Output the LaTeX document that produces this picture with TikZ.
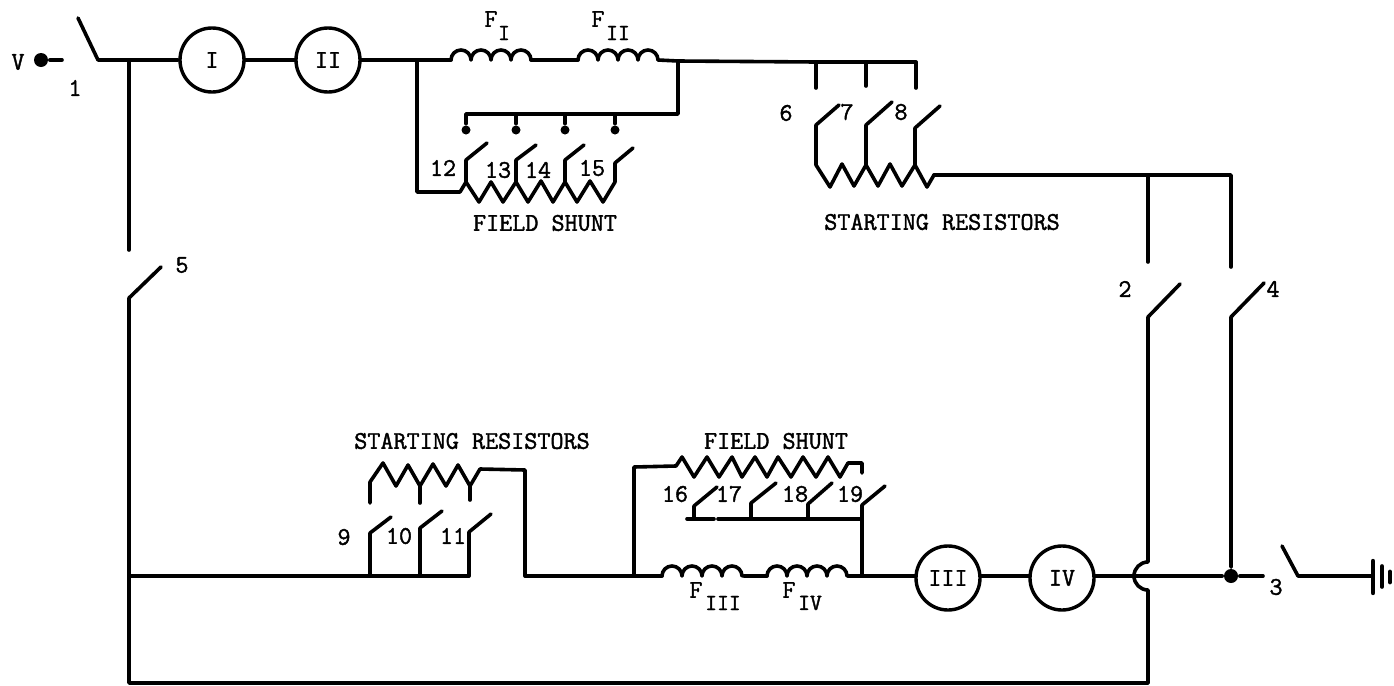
\documentclass[tikz,border=0pt]{standalone}
\usepackage{fontspec}
\newfontfamily\lblfont[FakeBold=1.6]{Latin Modern Mono}

\tikzset{
    wire/.style={line width=1.8pt, line join=round, line cap=round},
    lbl/.style={font=\lblfont\fontsize{12.7}{14}\selectfont, inner sep=0pt},
    sublbl/.style={lbl, font=\lblfont\fontsize{11.5}{14}\selectfont},
    dot/.style={circle, fill=black, inner sep=0pt, minimum size=4.5pt},
    motor/.style={circle, draw, line width=1.7pt, minimum size=32pt, inner sep=0pt, lbl}
}

\begin{document}
\begin{tikzpicture}[x=0.5pt, y=-0.5pt, wire]
        \useasboundingbox (0,0) rectangle (1394,686);

        % Motoren
        \node[motor] (MI) at (212,60) {I};
        \node[motor] (MII) at (328,60) {II};
        \node[motor] (MIII) at (948,578) {III};
        \node[motor] (MIV) at (1062,578) {IV};

        % Klemmen
        \node[dot, minimum size=7pt] (V) at (41,60) {};
        \node[dot] (D12) at (466,130) {};
        \node[dot] (D13) at (516,130) {};
        \node[dot] (D14) at (565,130) {};
        \node[dot] (D15) at (615,130) {};
        \node[dot, minimum size=7pt] (J4) at (1231,576) {};

        % Punkte oben
        \coordinate (Va) at (62,60);
        \coordinate (S1a) at (78,18);
        \coordinate (S1b) at (98,60);
        \coordinate (J5) at (129,60);
        \coordinate (S5t) at (129,250);
        \coordinate (S5a) at (161,267);
        \coordinate (S5b) at (129,298);
        \coordinate (Cor) at (129,683);
        \coordinate (J12) at (417,60);
        \coordinate (FIa) at (451,60);
        \coordinate (FIb) at (531,60);
        \coordinate (FIIa) at (578,60);
        \coordinate (FIIb) at (658,60);
        \coordinate (J15) at (678,61);
        \coordinate (T8) at (916,62);
        \coordinate (T6) at (816,62);
        \coordinate (T7) at (866,62);
        \coordinate (B15) at (678,114);
        \coordinate (B12) at (466,114);
        \coordinate (B13) at (516,114);
        \coordinate (B14) at (565,114);
        \coordinate (B15x) at (615,114);
        \coordinate (Ra) at (417,192);
        \coordinate (Rb) at (460,192);

        % Punkte rechts
        \coordinate (R2) at (934,175);
        \coordinate (J2) at (1148,175);
        \coordinate (J4t) at (1231,175);
        \coordinate (S2t) at (1148,262);
        \coordinate (S4t) at (1231,267);
        \coordinate (S2a) at (1180,284);
        \coordinate (S2b) at (1148,317);
        \coordinate (S4a) at (1264,283);
        \coordinate (S4b) at (1231,317);
        \coordinate (Ha) at (1148,562);
        \coordinate (Hb) at (1148,590);
        \coordinate (Cr) at (1148,683);
        \coordinate (End) at (1263,576);
        \coordinate (S3a) at (1282,546);
        \coordinate (S3b) at (1298,576);
        \coordinate (Gnd) at (1373,576);

        % Punkte unten
        \coordinate (L5) at (129,576);
        \coordinate (L11) at (469,576);
        \coordinate (Lu) at (525,576);
        \coordinate (Lt) at (525,470);
        \coordinate (Rc) at (480,469);
        \coordinate (L9) at (370,576);
        \coordinate (L10) at (420,576);
        \coordinate (Lf) at (634,576);
        \coordinate (Lft) at (634,467);
        \coordinate (Rd) at (676,466);
        \coordinate (FIIIa) at (662,576);
        \coordinate (FIIIb) at (744,576);
        \coordinate (FIVa) at (767,576);
        \coordinate (FIVb) at (848,576);
        \coordinate (L19) at (862,576);
        \coordinate (B19) at (862,519);
        \coordinate (B16a) at (687,519);
        \coordinate (B16b) at (714,519);
        \coordinate (B16) at (694,519);
        \coordinate (B17) at (751,519);
        \coordinate (B18) at (808,519);
        \coordinate (B17a) at (718,519);

        % Hauptstrom
        \draw (V) -- (Va);
        \draw (S1a) -- (S1b) -- (J5) -- (MI);
        \draw (MI) -- (MII);
        \draw (MII) -- (J12) -- (FIa);
        \draw (FIa) arc (180:360:10) arc (180:360:10) arc (180:360:10) arc (180:360:10);
        \draw (FIb) -- (FIIa);
        \draw (FIIa) arc (180:360:10) arc (180:360:10) arc (180:360:10) arc (180:360:10);
        \draw (FIIb) -- (J15) -- (T6) -- (T7) -- (T8);
        \draw (J5) -- (S5t);
        \draw (S5a) -- (S5b) -- (Cor) -- (Cr);
        \draw (L5) -- (L9) -- (L10) -- (L11);
        \draw (Lu) -- (Lf) -- (FIIIa);
        \draw (FIIIa) arc (180:360:10) arc (180:360:10) arc (180:360:10) arc (180:360:10);
        \draw (FIIIb) -- (FIVa);
        \draw (FIVa) arc (180:360:10) arc (180:360:10) arc (180:360:10) arc (180:360:10);
        \draw (FIVb) -- (L19) -- (L19 -| MIII.west);
        \draw (L19 -| MIII.east) -- (L19 -| MIV.west);
        \draw (L19 -| MIV.east) -- (J4) -- (End);
        \draw (S3a) -- (S3b) -- (Gnd);

        % Erde
        \draw[line width=2.2pt] (1373,561) -- (1373,593);
        \draw (1382,566) -- (1382,587);
        \draw[line width=2.4pt] (1390,572) -- (1390,582);

        % Zweig 2 und 4
        \draw (R2) -- (J2) -- (J4t) -- (S4t);
        \draw (J2) -- (S2t);
        \draw (S2a) -- (S2b) -- (Ha) arc (270:90:14) -- (Hb) -- (Cr);
        \draw (S4a) -- (S4b) -- (J4);

        % Feldshunt oben
        \draw (J12) -- (Ra) -- (Rb) -- (466,182) -- (479,202) -- (491,182) -- (503,202) -- (516,182) -- (528,202) -- (541,181)
            -- (553,202) -- (565,182) -- (577,202) -- (590,181) -- (603,202) -- (615,182);
        \draw (J15) -- (B15) -- (B15x) -- (B14) -- (B13) -- (B12) -- (D12);
        \draw (B13) -- (D13);
        \draw (B14) -- (D14);
        \draw (B15x) -- (D15);
        \draw (466,182) -- (466,160) -- (487,143);
        \draw (516,182) -- (516,160) -- (536,145);
        \draw (565,182) -- (565,160) -- (584,145);
        \draw (615,182) -- (615,163) -- (633,148);

        % Anlasswiderstand oben
        \draw (T6) -- (816,88);
        \draw (T7) -- (866,86);
        \draw (T8) -- (916,88);
        \draw (839,105) -- (816,125) -- (816,165) -- (830,187) -- (842,164) -- (854,186) -- (866,165) -- (878,186) -- (890,164)
            -- (902,186) -- (915,165) -- (927,187) -- (R2);
        \draw (892,102) -- (866,125) -- (866,165);
        \draw (940,106) -- (915,128) -- (915,165);

        % Anlasswiderstand unten
        \draw (L9) -- (370,533) -- (391,517);
        \draw (L10) -- (420,528) -- (442,511);
        \draw (L11) -- (469,532) -- (491,514);
        \draw (370,503) -- (370,482) -- (383,463) -- (396,486) -- (408,465) -- (420,486) -- (433,464) -- (446,486) -- (458,465)
            -- (470,486) -- (Rc) -- (Lt) -- (Lu);
        \draw (420,486) -- (420,503);
        \draw (470,486) -- (470,500);

        % Feldshunt unten
        \draw (Lf) -- (Lft) -- (Rd) -- (682,457) -- (694,477) -- (707,457) -- (719,477) -- (732,457) -- (742,477) -- (755,457)
            -- (767,477) -- (778,457) -- (791,477) -- (803,457) -- (816,477) -- (828,457) -- (840,477) -- (848,463) -- (862,463) -- (862,473);
        \draw (B16a) -- (B16b);
        \draw (B17a) -- (B17) -- (B18) -- (B19);
        \draw (L19) -- (B19) -- (862,505) -- (885,486);
        \draw (B16) -- (694,506) -- (717,487);
        \draw (B17) -- (751,503) -- (776,483);
        \draw (B18) -- (808,504) -- (832,483);

        % Beschriftung
        \node[lbl] (LV) at (18,62) {V};
        \node[lbl] (L1) at (75,88) {1};
        \node[lbl] (L2) at (1125,289) {2};
        \node[lbl] (L3) at (1276,587) {3};
        \node[lbl] (L4) at (1273,289) {4};
        \node[lbl] (L5a) at (182,265) {5};
        \node[lbl] (L6) at (786,113) {6};
        \node[lbl] (L7) at (847,112) {7};
        \node[lbl] (L8) at (901,112) {8};
        \node[lbl] (N9) at (344,537) {9};
        \node[lbl] (N10) at (399,536) {10};
        \node[lbl] (N11) at (453,536) {11};
        \node[lbl] (N12) at (443,168) {12};
        \node[lbl] (N13) at (498,170) {13};
        \node[lbl] (N14) at (538,170) {14};
        \node[lbl] (N15) at (592,168) {15};
        \node[lbl] (N16) at (675,494) {16};
        \node[lbl] (N17) at (729,494) {17};
        \node[lbl] (N18) at (795,494) {18};
        \node[lbl] (N19) at (850,494) {19};

        \node[lbl] (SFa) at (545,223) {FIELD SHUNT};
        \node[lbl] (SRa) at (942,222) {STARTING RESISTORS};
        \node[lbl] (SRb) at (472,441) {STARTING RESISTORS};
        \node[lbl] (SFb) at (776,441) {FIELD SHUNT};

        \node[lbl] (LFI) at (491,19) {F};
        \node[sublbl] (LFIs) at (504,33) {I};
        \node[lbl] (LFII) at (598,19) {F};
        \node[sublbl] (LFIIs) at (618,33) {II};
        \node[lbl] (LFIII) at (696,590) {F};
        \node[sublbl] (LFIIIs) at (723,603) {III};
        \node[lbl] (LFIV) at (789,590) {F};
        \node[sublbl] (LFIVs) at (810,603) {IV};
    \end{tikzpicture}
\end{document}
